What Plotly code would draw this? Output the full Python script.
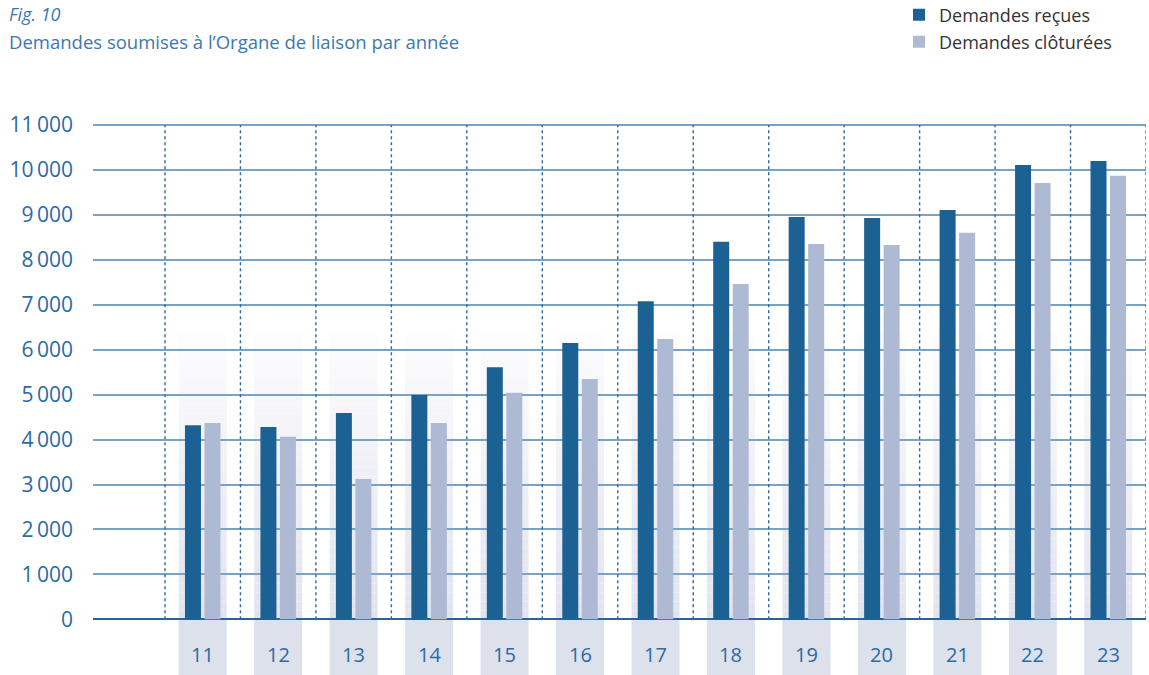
import plotly.graph_objects as go

# Years (two-digit labels) and yearly request counts
years = [11, 12, 13, 14, 15, 16, 17, 18, 19, 20, 21, 22, 23]
year_labels = ["11", "12", "13", "14", "15", "16", "17", "18", "19", "20", "21", "22", "23"]
recues = [4320, 4280, 4590, 4990, 5610, 6150, 7080, 8400, 8950, 8930, 9110, 10110, 10200]
cloturees = [4370, 4060, 3120, 4370, 5040, 5350, 6240, 7460, 8350, 8330, 8600, 9710, 9870]

y_ticks = [0, 1000, 2000, 3000, 4000, 5000, 6000, 7000, 8000, 9000, 10000, 11000]
y_tick_text = ["0", "1\u2009000", "2\u2009000", "3\u2009000", "4\u2009000", "5\u2009000",
               "6\u2009000", "7\u2009000", "8\u2009000", "9\u2009000", "10\u2009000", "11\u2009000"]

DARK = "#1c6194"
LIGHT = "#aebad4"
BLUE_TXT = "#2a6ba3"
FONT = "Open Sans"

Y_MIN, Y_MAX = -1239, 11111
X_MIN, X_MAX = 9.546, 23.5
BAND_HALF = 0.318
BAND_TOP = 6370

fig = go.Figure()
fig.add_trace(go.Bar(x=years, y=recues, name="Demandes reçues", showlegend=True,
                     marker=dict(color=DARK, line_width=0), legend="legend"))
fig.add_trace(go.Bar(x=years, y=cloturees, name="Demandes clôturées", showlegend=True,
                     marker=dict(color=LIGHT, line_width=0), legend="legend2"))

shapes = []
# soft column bands behind each year: gradient above the axis, flat tint below it
n_steps = 32
top_rgb = (253, 252, 254)
bot_rgb = (225, 228, 238)
for x in years:
    for i in range(n_steps):
        t = i / (n_steps - 1)
        r = round(bot_rgb[0] + (top_rgb[0] - bot_rgb[0]) * t)
        g = round(bot_rgb[1] + (top_rgb[1] - bot_rgb[1]) * t)
        b = round(bot_rgb[2] + (top_rgb[2] - bot_rgb[2]) * t)
        shapes.append(dict(type="rect", xref="x", yref="y", layer="below",
                           x0=x - BAND_HALF, x1=x + BAND_HALF,
                           y0=BAND_TOP * i / n_steps, y1=BAND_TOP * (i + 1) / n_steps,
                           fillcolor=f"rgb({r},{g},{b})", line_width=0))
    shapes.append(dict(type="rect", xref="x", yref="y", layer="below",
                       x0=x - BAND_HALF, x1=x + BAND_HALF, y0=Y_MIN, y1=0,
                       fillcolor="#dde1ec", line_width=0))

# dotted separators between years
for x in [years[0] - 0.5] + [y + 0.5 for y in years]:
    shapes.append(dict(type="line", xref="x", yref="y", layer="between",
                       x0=x, x1=x, y0=0, y1=y_ticks[-1],
                       line=dict(color="#2a67a0", width=1.4, dash="dot")))

annotations = [
    dict(text="<i>Fig. 10</i>", xref="paper", yref="paper", x=-86 / 1053, y=1 + (120 - 14) / 555,
         xanchor="left", yanchor="middle", showarrow=False,
         font=dict(family=FONT, size=18, color="#3a78b0")),
    dict(text="Demandes soumises à l’Organe de liaison par année", xref="paper", yref="paper",
         x=-86 / 1053, y=1 + (120 - 41) / 555, xanchor="left", yanchor="middle", showarrow=False,
         font=dict(family=FONT, size=18.5, color="#3a78b0")),
]
for x, lab in zip(years, year_labels):
    annotations.append(dict(text=lab, x=x, y=-790, xref="x", yref="y", showarrow=False,
                            xanchor="center", yanchor="middle",
                            font=dict(family=FONT, size=20, color=BLUE_TXT)))

legend_style = dict(xanchor="left", yanchor="middle", bgcolor="rgba(0,0,0,0)",
                    font=dict(family=FONT, size=18, color="#333333"), borderwidth=0)

fig.update_layout(
    width=1149, height=675,
    margin=dict(l=93, r=3, t=120, b=0, autoexpand=False),
    paper_bgcolor="white", plot_bgcolor="white",
    showlegend=True,
    barmode="group", bargap=0.483, bargroupgap=0.18,
    font=dict(family=FONT, color=BLUE_TXT),
    shapes=shapes, annotations=annotations,
    xaxis=dict(range=[X_MIN, X_MAX], showgrid=False, zeroline=False,
               showticklabels=False, ticks="", showline=False),
    yaxis=dict(range=[Y_MIN, Y_MAX], tickvals=y_ticks, ticktext=y_tick_text,
               showgrid=True, gridcolor="#7aa2c4", gridwidth=1.6,
               zeroline=True, zerolinecolor="#2a6496", zerolinewidth=2,
               showline=False, ticks="", ticklabelstandoff=19,
               tickfont=dict(family=FONT, size=21, color=BLUE_TXT)),
    legend=dict(x=(899 - 93) / 1053, y=1 + (120 - 15) / 555, **legend_style),
    legend2=dict(x=(899 - 93) / 1053, y=1 + (120 - 42) / 555, **legend_style),
)

fig.write_html("out.html")
